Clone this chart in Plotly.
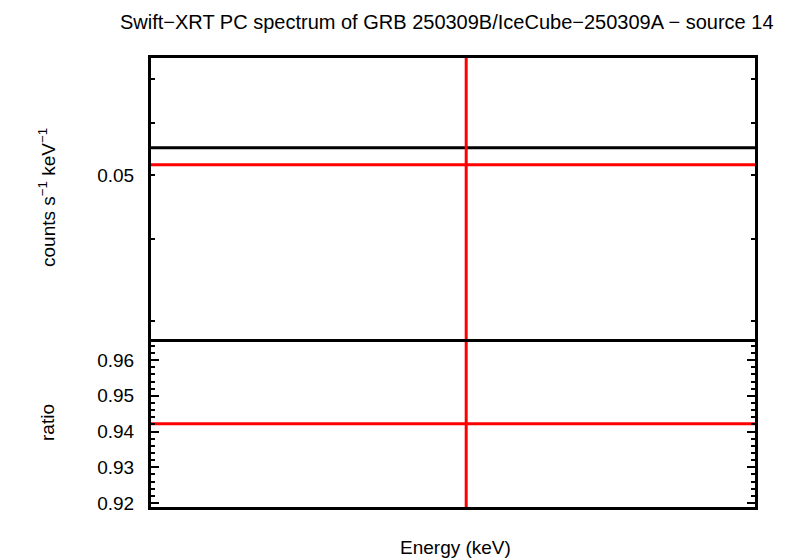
import plotly.graph_objects as go

# data
energy_lo = 0.3
energy_hi = 10.0
energy_center = 1.87
data_rate = [0.0550]
model_rate = [0.0518]
ratio_model = [0.9422]

top_ticks = [0.03, 0.04, 0.05, 0.06, 0.07]
top_ticktext = ["", "", "0.05", "", ""]
bot_ticks = [0.92, 0.93, 0.94, 0.95, 0.96]
bot_ticktext = ["0.92", "0.93", "0.94", "0.95", "0.96"]

FONT = "Liberation Sans, Arial, Helvetica, sans-serif"
RED = "#ff0000"
LW = 3
FW = 3

fig = go.Figure()

# top panel (x2, y2)
fig.add_trace(go.Scatter(x=[energy_lo, energy_hi], y=data_rate * 2, mode="lines",
                         line=dict(color="black", width=LW), xaxis="x2", yaxis="y2", showlegend=False))
fig.add_trace(go.Scatter(x=[energy_lo, energy_hi], y=model_rate * 2, mode="lines",
                         line=dict(color=RED, width=LW), xaxis="x2", yaxis="y2", showlegend=False))
fig.add_trace(go.Scatter(x=[energy_center, energy_center], y=[0.01, 0.2], mode="lines",
                         line=dict(color=RED, width=LW), xaxis="x2", yaxis="y2", showlegend=False))

# bottom panel (x, y)
fig.add_trace(go.Scatter(x=[energy_lo, energy_hi], y=ratio_model * 2, mode="lines",
                         line=dict(color=RED, width=LW), xaxis="x", yaxis="y", showlegend=False))
fig.add_trace(go.Scatter(x=[energy_center, energy_center], y=[0.8, 1.1], mode="lines",
                         line=dict(color=RED, width=LW), xaxis="x", yaxis="y", showlegend=False))

split = (507 - 339) / (507 - 58)

xcommon = dict(type="log", range=[-0.522879, 1.0], showline=True,
               linecolor="black", linewidth=FW, ticks="", showticklabels=False,
               showgrid=False, zeroline=False)

fig.update_layout(
    width=794, height=558,
    margin=dict(l=151, r=39, t=58, b=51),
    paper_bgcolor="white", plot_bgcolor="white",
    font=dict(family=FONT, size=19, color="black"),
    xaxis=dict(domain=[0, 1], mirror=False, **xcommon),
    xaxis2=dict(domain=[0, 1], anchor="y2", mirror=True, **xcommon),
    yaxis=dict(domain=[0, split], range=[0.9189, 0.9659], showline=True, mirror="ticks",
               linecolor="black", linewidth=FW, ticks="inside", ticklen=8, tickwidth=2,
               tickcolor="black", tickvals=bot_ticks, ticktext=bot_ticktext,
               ticklabelstandoff=10, showgrid=False, zeroline=False,
               minor=dict(dtick=0.002, ticks="inside", ticklen=4, tickwidth=2, tickcolor="black", showgrid=False)),
    yaxis2=dict(domain=[split, 1], anchor="x2", type="log", range=[-1.5507, -1.1230],
                showline=True, mirror="ticks", linecolor="black", linewidth=FW,
                ticks="inside", ticklen=4, tickwidth=2, tickcolor="black",
                tickvals=top_ticks, ticktext=top_ticktext, ticklabelstandoff=10,
                showgrid=False, zeroline=False),
)

pw = 794 - 151 - 39
ph = 558 - 58 - 51


def ann(text, px, py, size, angle=0):
    return dict(text=text, x=(px - 151) / pw, y=(558 - 51 - py) / ph,
                xref="paper", yref="paper", xanchor="center", yanchor="middle",
                showarrow=False, textangle=angle, font=dict(size=size))


fig.update_layout(annotations=[
    ann("Swift\u2212XRT PC spectrum of GRB 250309B/IceCube\u2212250309A \u2212 source 14", 447, 22, 20),
    ann("counts s<sup>\u22121</sup> keV<sup>\u22121</sup>", 47, 198, 19, -90),
    ann("ratio", 47, 423, 19, -90),
    ann("Energy (keV)", 455, 547, 19),
])

fig.write_html("out.html", config={"displayModeBar": False},
               post_script="document.body.style.margin='0';document.body.style.padding='0';")
